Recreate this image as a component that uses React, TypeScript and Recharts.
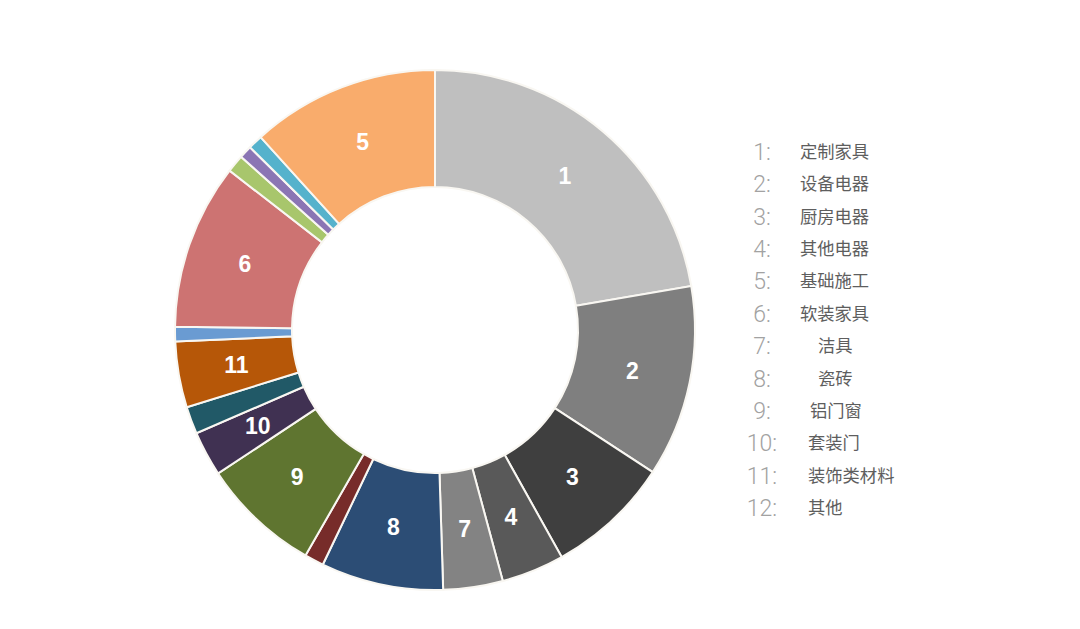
import React from 'react';
import { PieChart, Pie, Cell, Legend } from 'recharts';

const sliceNames = ['1', '2', '3', '4', '7', '8', '', '9', '10', '', '11', '', '6', '', '', '', '5'];
const sliceValues = [22.3, 11.9, 7.7, 3.9, 3.7, 7.6, 1.2, 7.4, 2.8, 1.7, 4.1, 0.9, 10.3, 1.1, 0.8, 0.9, 11.7];
const sliceColors = [
  '#BFBFBF', '#7F7F7F', '#3F3F3F', '#595959', '#838383', '#2C4D75', '#772C2A', '#5F7530',
  '#403152', '#215967', '#B65708', '#6A9BD2', '#CD7372', '#A8C66C', '#8B75B4', '#55B2CC', '#F9AC6C',
];

const legendNumbers = ['1:', '2:', '3:', '4:', '5:', '6:', '7:', '8:', '9:', '10:', '11:', '12:'];
const legendNames = ['定制家具', '设备电器', '厨房电器', '其他电器', '基础施工', '软装家具', '洁具', '瓷砖', '铝门窗', '套装门', '装饰类材料', '其他'];

// layout constants for legend text indentation (px from legend left)
const legendTextIndent = [55, 55, 55, 55, 55, 55, 73, 73, 65, 63, 63, 63];

const data = sliceNames.map((name, i) => ({ name, value: sliceValues[i], color: sliceColors[i] }));

const RADIAN = Math.PI / 180;

const renderLabel = (props: any) => {
  const { cx, cy, midAngle, innerRadius, outerRadius, index } = props;
  const name = sliceNames[index];
  if (!name) return null;
  const r = innerRadius + (outerRadius - innerRadius) * 0.5;
  const x = cx + r * Math.cos(-midAngle * RADIAN);
  const y = cy + r * Math.sin(-midAngle * RADIAN);
  return (
    <text
      x={x}
      y={y}
      fill="#ffffff"
      textAnchor="middle"
      dominantBaseline="central"
      style={{ fontFamily: 'Arial, "Liberation Sans", sans-serif', fontWeight: 700, fontSize: 23 }}
    >
      {name}
    </text>
  );
};

const renderLegend = () => (
  <div style={{ position: 'relative', width: 200 }}>
    {legendNames.map((n, i) => (
      <div key={i} style={{ position: 'relative', height: 32.4, lineHeight: '32.4px' }}>
        <span
          style={{
            position: 'absolute',
            left: 0,
            top: 2,
            width: 34,
            textAlign: 'center',
            fontFamily: 'Roboto, "Open Sans", sans-serif',
            fontWeight: 300,
            fontSize: 23,
            color: '#a2a2a2',
          }}
        >
          {legendNumbers[i]}
        </span>
        <span
          style={{
            position: 'absolute',
            left: legendTextIndent[i],
            fontFamily: '"Noto Sans CJK SC", sans-serif',
            fontSize: 17.3,
            color: '#5e5e5e',
            whiteSpace: 'nowrap',
          }}
        >
          {n}
        </span>
      </div>
    ))}
  </div>
);

export default function App() {
  return (
    <div style={{ position: 'absolute', left: 0, top: 0, width: 1080, height: 629, background: '#ffffff' }}>
      <PieChart width={1080} height={629} margin={{ top: 0, right: 0, bottom: 0, left: 0 }}>
        <Pie
          data={data}
          dataKey="value"
          nameKey="name"
          cx={435}
          cy={330}
          innerRadius={143}
          outerRadius={260}
          startAngle={90}
          endAngle={-270}
          stroke="#f9f7f2"
          strokeWidth={2}
          label={renderLabel}
          labelLine={false}
          isAnimationActive={false}
        >
          {data.map((d, i) => (
            <Cell key={i} fill={d.color} />
          ))}
        </Pie>
        <Legend
          content={renderLegend}
          wrapperStyle={{ position: 'absolute', left: 745, top: 134.8, width: 200 }}
        />
      </PieChart>
    </div>
  );
}
